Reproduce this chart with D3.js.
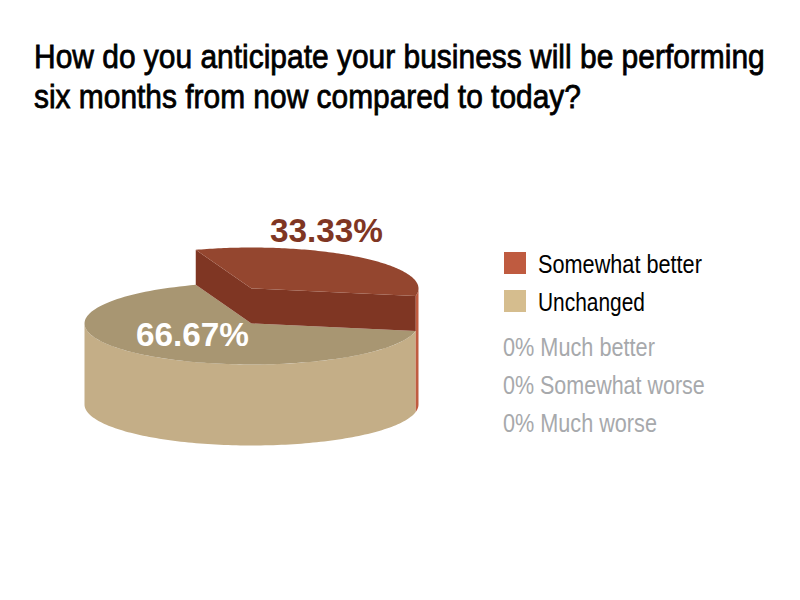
<!DOCTYPE html>
<html><head><meta charset="utf-8">
<script src="https://cdn.jsdelivr.net/npm/d3@7"></script>
<style>html,body{margin:0;background:#fff}svg{display:block}text{font-family:"Liberation Sans",Arial,sans-serif}</style>
</head><body><svg id="c" width="800" height="600"></svg>
<script>
const categories = ["Somewhat better", "Unchanged"];
const values = [33.33, 66.67];
const valueLabels = ["33.33%", "66.67%"];
const zeroCategories = ["0% Much better", "0% Somewhat worse", "0% Much worse"];
const titleLines = ["How do you anticipate your business will be performing", "six months from now compared to today?"];

const svg = d3.select("#c");
const cx = 251.5, cy = 323.5, rx = 167, ry = 41, depth = 81, lift = 35;
const rad = d3.pie().sort(null).startAngle(-19.5 * Math.PI / 180).endAngle(340.5 * Math.PI / 180)(values);
const X = d3.scaleLinear([-1, 1], [cx - rx, cx + rx]);
const Y = d3.scaleLinear([-1, 1], [-ry, ry]);
const pt = (a, y0) => [X(Math.sin(a)), y0 + Y(-Math.cos(a))];
const arcPts = (a0, a1, y0) => d3.range(0, 121).map(i => pt(a0 + (a1 - a0) * i / 120, y0));
const poly = pts => d3.line()(pts) + "Z";
const path = (pts, fill) => svg.append("path").attr("d", poly(pts)).attr("fill", fill);

const red = rad[0], tan = rad[1];
const redTop = cy - lift;
const tanA0 = Math.max(tan.startAngle, Math.PI / 2), tanA1 = Math.min(tan.endAngle, 3 * Math.PI / 2);
path(arcPts(tanA0, tanA1, cy).concat(arcPts(tanA1, tanA0, cy + depth)), "#c4ae87");
path([[cx, cy]].concat(arcPts(tan.startAngle, tan.endAngle, cy)), "#a89672");
const wallA0 = Math.PI / 2;
path(arcPts(wallA0, red.endAngle, redTop).concat(arcPts(red.endAngle, wallA0, cy + depth)), "#c05c40");
path([pt(red.startAngle, redTop), [cx, redTop], pt(red.endAngle, redTop), pt(red.endAngle, cy), [cx, cy], pt(red.startAngle, cy)], "#7f3623");
path([[cx, redTop]].concat(arcPts(red.startAngle, red.endAngle, redTop)), "#94462f");

// Fit each text to a measured width by scaling it horizontally
function fit(sel, x, y, w) {
  sel.each(function (d, i) {
    const n = this.getComputedTextLength();
    d3.select(this).attr("transform", `translate(${x(d, i)},${y(d, i)}) scale(${w[i] / n},1)`);
  });
}

const title = svg.selectAll(".t").data(titleLines).join("text").attr("class", "t")
  .attr("font-size", 34).attr("fill", "#000").attr("stroke", "#000").attr("stroke-width", 0.8).text(d => d);
fit(title, () => 34, (d, i) => [68, 108][i], [731, 547]);

const lblC = ["#7f3623", "#ffffff"];
const lbls = svg.selectAll(".v").data(valueLabels).join("text").attr("class", "v")
  .attr("font-size", 34).attr("font-weight", "bold").attr("fill", (d, i) => lblC[i]).text(d => d);
fit(lbls, (d, i) => [270, 136][i], (d, i) => [242, 346][i], [113, 113]);

const legC = ["#bf5b40", "#d5bd8e"], legY = d3.scalePoint(categories, [252, 290]);
svg.selectAll(".lr").data(categories).join("rect").attr("class", "lr")
  .attr("x", 504).attr("y", d => legY(d)).attr("width", 22).attr("height", 22)
  .attr("fill", (d, i) => legC[i]);
const lt = svg.selectAll(".lt").data(categories).join("text").attr("class", "lt")
  .attr("font-size", 25).attr("fill", "#000").text(d => d);
fit(lt, () => 538, d => legY(d) + 20.5, [164, 107]);
const zeroY = d3.scalePoint(zeroCategories, [356, 432]);
const zt = svg.selectAll(".z").data(zeroCategories).join("text").attr("class", "z")
  .attr("font-size", 25).attr("fill", "#a7a9ac").text(d => d);
fit(zt, () => 503, d => zeroY(d), [152, 202, 154]);
</script></body></html>
